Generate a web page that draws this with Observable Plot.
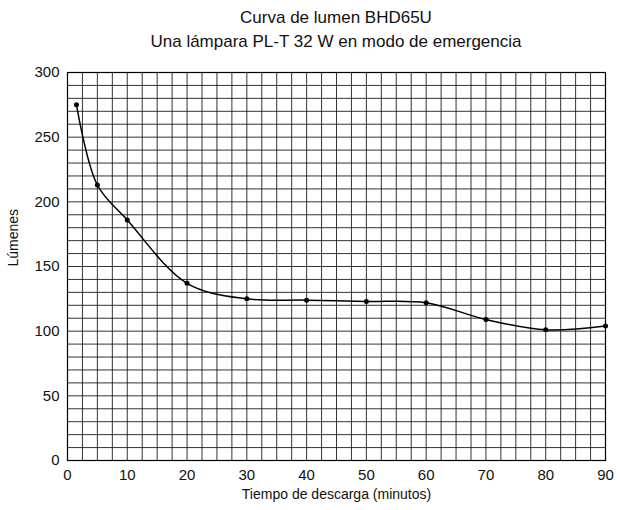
<!DOCTYPE html>
<html><head><meta charset="utf-8">
<script src="https://cdn.jsdelivr.net/npm/d3@7"></script>
<script src="https://cdn.jsdelivr.net/npm/@observablehq/plot@0.6"></script>
<style>
body{margin:0;background:#fff;font-family:"Liberation Sans",Arial,sans-serif;}
#title{width:620px;height:56px;box-sizing:border-box;padding-left:52px;padding-top:6px;text-align:center;font-size:17px;line-height:24px;color:#111;}
</style></head><body>
<div id="title"><div>Curva de lumen BHD65U</div><div>Una lámpara PL-T 32 W en modo de emergencia</div></div>
<div id="chart"></div>
<script>
const minutes = [1.5, 5, 10, 20, 30, 40, 50, 60, 70, 80, 90];
const lumens = [275, 213, 186, 137, 125, 124, 123, 122, 109, 101, 104];
const xTicks = [0, 10, 20, 30, 40, 50, 60, 70, 80, 90];
const yTicks = [0, 50, 100, 150, 200, 250, 300];
const xGrid = d3.range(0, 90.01, 2.5);
const yGrid = d3.range(0, 300.01, 10);
const data = minutes.map((m, i) => ({m, l: lumens[i]}));

const chart = Plot.plot({
  width: 620, height: 454,
  marginTop: 16, marginLeft: 67, marginRight: 15, marginBottom: 50,
  style: {fontFamily: '"Liberation Sans", Arial, sans-serif', fontSize: "15px", color: "#111"},
  x: {domain: [0, 90]},
  y: {domain: [0, 300]},
  marks: [
    Plot.ruleX(xGrid, {stroke: "#111", strokeWidth: 1, strokeOpacity: 0.85}),
    Plot.ruleY(yGrid, {stroke: "#111", strokeWidth: 1, strokeOpacity: 0.85}),
    Plot.frame({stroke: "#000", strokeWidth: 1.2}),
    Plot.axisX({ticks: xTicks, tickSize: 0, tickPadding: 9, fontSize: 15, label: null}),
    Plot.axisY({ticks: yTicks, tickSize: 0, tickPadding: 8, fontSize: 15, label: null}),
    Plot.text(["Tiempo de descarga (minutos)"], {frameAnchor: "bottom", dy: 38, fontSize: 14}),
    Plot.text(["Lúmenes"], {frameAnchor: "left", dx: -54, rotate: -90, fontSize: 14}),
    Plot.line(data, {x: "m", y: "l", curve: "catmull-rom", stroke: "#000", strokeWidth: 1.5}),
    Plot.dot(data, {x: "m", y: "l", r: 2.5, fill: "#000"})
  ]
});
document.getElementById("chart").append(chart);
</script></body></html>
